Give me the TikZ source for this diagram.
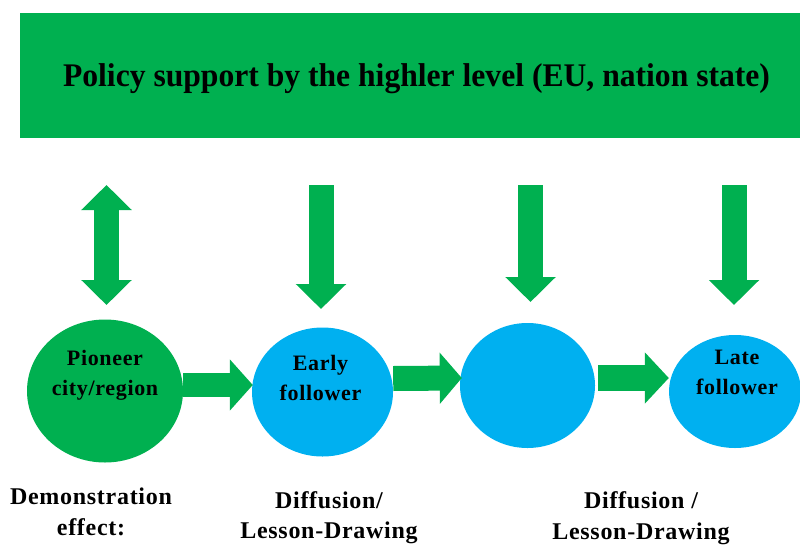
\documentclass[tikz,border=0pt]{standalone}
\usepackage{fontspec}
\setmainfont{Liberation Serif}
\newfontfamily\lsfont[LetterSpace=3]{Liberation Serif}
\usetikzlibrary{arrows.meta,shapes.geometric}
\definecolor{pgreen}{HTML}{00B050}
\definecolor{pblue}{HTML}{00B0F0}
\tikzset{
  bar/.style={rectangle, fill=pgreen, draw=none, minimum width=780pt, minimum height=125pt, inner sep=0pt},
  gcirc/.style={ellipse, fill=pgreen, draw=none, inner sep=0pt},
  bcirc/.style={ellipse, fill=pblue, draw=none, inner sep=0pt},
  ctext/.style={align=center, inner sep=0pt, font=\lsfont\bfseries\fontsize{22}{30}\selectfont},
  btext/.style={align=center, inner sep=0pt, font=\lsfont\bfseries\fontsize{24}{30.5}\selectfont},
  vflow/.style={draw=pgreen, line width=25pt, -{Triangle[width=49pt,length=25pt]}},
  vboth/.style={draw=pgreen, line width=25pt, {Triangle[width=49pt,length=25pt]}-{Triangle[width=49pt,length=25pt]}},
  hflow/.style={draw=pgreen, line width=25pt, -{Triangle[width=50pt,length=23pt]}},
}
\begin{document}
\begin{tikzpicture}[x=1pt,y=-1pt]
\useasboundingbox (0,0) rectangle (800,546);
% top bar
\node[bar] (top) at (410,75.5) {};
\node[inner sep=0pt, font=\bfseries\fontsize{33}{40}\selectfont] (title) at (416.5,79)
  {\scalebox{0.958}[1]{Policy support by the highler level (EU, nation state)}};
% circles
\node[gcirc, minimum width=156pt, minimum height=143pt] (pioneer) at (105,391) {};
\node[bcirc, minimum width=141pt, minimum height=129pt] (early) at (322.5,392) {};
\node[bcirc, minimum width=135pt, minimum height=125pt] (mid) at (527.5,385.5) {};
\node[bcirc, minimum width=132pt, minimum height=113pt] (late) at (735,391.5) {};
% circle texts
\node[ctext] (tp) at (105,375) {Pioneer\\city/region};
\node[ctext] (te) at (320.5,377.5) {Early\\follower};
\node[ctext] (tl) at (737,372.5) {Late\\follower};
% bottom texts
\node[btext] (b1) at (91,512) {Demonstration\\effect:};
\node[btext] (b2) at (329,517.5) {Diffusion/\\Lesson-Drawing};
\node[btext] (b3) at (641,518) {Diffusion /\\Lesson-Drawing};
% vertical arrows
\coordinate (a1s) at (106.5,185);
\coordinate (a1e) at (106.5,305);
\coordinate (a2s) at (321,185);
\coordinate (a2e) at (321,309);
\coordinate (a3s) at (530.5,185);
\coordinate (a3e) at (530.5,302);
\coordinate (a4s) at (734,185);
\coordinate (a4e) at (734,305);
\draw[vboth] (a1s) -- (a1e);
\draw[vflow] (a2s) -- (a2e);
\draw[vflow] (a3s) -- (a3e);
\draw[vflow] (a4s) -- (a4e);
% horizontal arrows
\draw[hflow, line width=24pt] ([yshift=6pt]pioneer.east) -- ([yshift=7pt,xshift=1pt]early.west);
\draw[hflow, -{Triangle[width=50pt,length=22pt]}] ([yshift=13.5pt]early.east) -- ([yshift=7.5pt,xshift=2pt]mid.west);
\draw[hflow, line width=26pt, -{Triangle[width=50pt,length=24pt]}] ([yshift=7.5pt,xshift=3pt]mid.east) -- ([yshift=13.5pt]late.west);
\end{tikzpicture}
\end{document}
